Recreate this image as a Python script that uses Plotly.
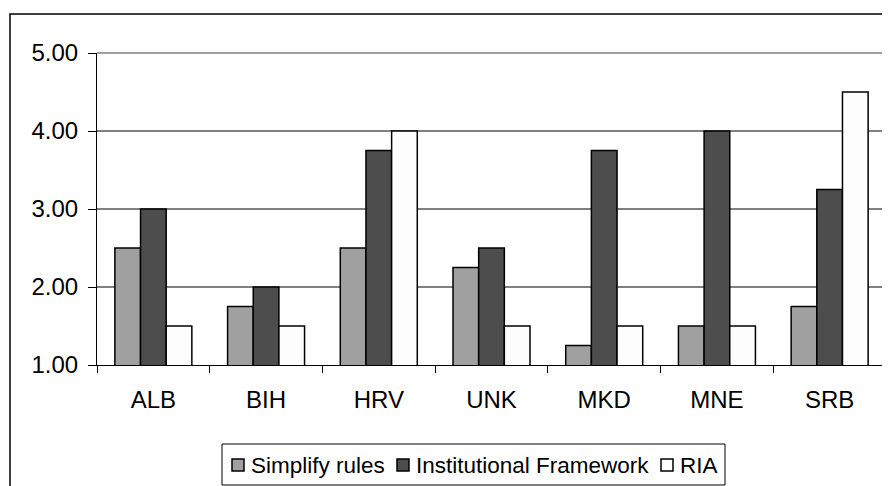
import plotly.graph_objects as go

categories = ["ALB", "BIH", "HRV", "UNK", "MKD", "MNE", "SRB"]
simplify_rules = [2.50, 1.75, 2.50, 2.25, 1.25, 1.50, 1.75]
institutional_framework = [3.00, 2.00, 3.75, 2.50, 3.75, 4.00, 3.25]
ria = [1.50, 1.50, 4.00, 1.50, 1.50, 1.50, 4.50]
y_ticks = [1, 2, 3, 4, 5]
series_names = ["Simplify rules", "Institutional Framework", "RIA"]
series_colors = ["#a0a0a0", "#4d4d4d", "#fdfdfd"]

FONT = "Arial, Liberation Sans, sans-serif"

# page body has an 8px margin; figure is sized to fill the remaining window
W, H = 882, 478
L, R, T, B = 89, 4, 45, 121
PW, PH = W - L - R, H - T - B


def px(x):  # page pixel -> paper x
    return (x - 8 - L) / PW


def py(y):  # page pixel -> paper y
    return (H - B - (y - 8)) / PH


fig = go.Figure()
for name, vals, col in zip(series_names,
                           [simplify_rules, institutional_framework, ria],
                           series_colors):
    fig.add_trace(go.Bar(
        x=categories, y=vals, name=name,
        marker=dict(color=col, line=dict(color="black", width=1.5)),
    ))

shapes = [
    dict(type="line", xref="paper", yref="paper", x0=0, x1=1, y0=1, y1=1,
         line=dict(color="#808080", width=1.5)),
    dict(type="line", xref="paper", yref="paper", x0=1, x1=1, y0=0, y1=1,
         line=dict(color="#808080", width=1.5)),
    # outer chart frame
    dict(type="rect", xref="paper", yref="paper", x0=px(10), x1=px(900),
         y0=py(500), y1=py(14), line=dict(color="black", width=1.5),
         fillcolor="rgba(0,0,0,0)"),
    # legend box
    dict(type="rect", xref="paper", yref="paper", x0=px(222), x1=px(725),
         y0=py(485), y1=py(444), line=dict(color="black", width=1),
         fillcolor="rgba(0,0,0,0)"),
]
annotations = []
sq_left = [232, 397, 661]
txt_left = [250, 415, 679]
for name, col, sx, tx in zip(series_names, series_colors, sq_left, txt_left):
    shapes.append(dict(type="rect", xref="paper", yref="paper",
                       x0=px(sx), x1=px(sx + 12), y0=py(471), y1=py(459),
                       fillcolor=col, line=dict(color="black", width=1.5)))
    annotations.append(dict(text=name, xref="paper", yref="paper",
                            x=px(tx), y=py(465), xanchor="left", yanchor="middle",
                            showarrow=False, borderpad=0,
                            font=dict(size=22.5, family=FONT, color="black")))

fig.update_layout(
    width=W, height=H,
    margin=dict(l=L, r=R, t=T, b=B),
    paper_bgcolor="white", plot_bgcolor="white",
    font=dict(family=FONT, size=24, color="black"),
    barmode="group", bargap=0.317, bargroupgap=0,
    showlegend=False,
    xaxis=dict(
        type="category", showline=True, linecolor="black", linewidth=1,
        ticks="outside", tickson="boundaries", ticklen=7, tickcolor="black",
        showgrid=False, ticklabelstandoff=13,
    ),
    yaxis=dict(
        range=[1, 5], tickvals=y_ticks, tickformat=".2f",
        showline=True, linecolor="black", linewidth=1,
        ticks="outside", ticklen=8, tickcolor="black",
        showgrid=True, gridcolor="#808080", gridwidth=1.5,
        zeroline=False, ticklabelstandoff=5,
    ),
    shapes=shapes,
    annotations=annotations,
)

fig.write_html("out.html")
